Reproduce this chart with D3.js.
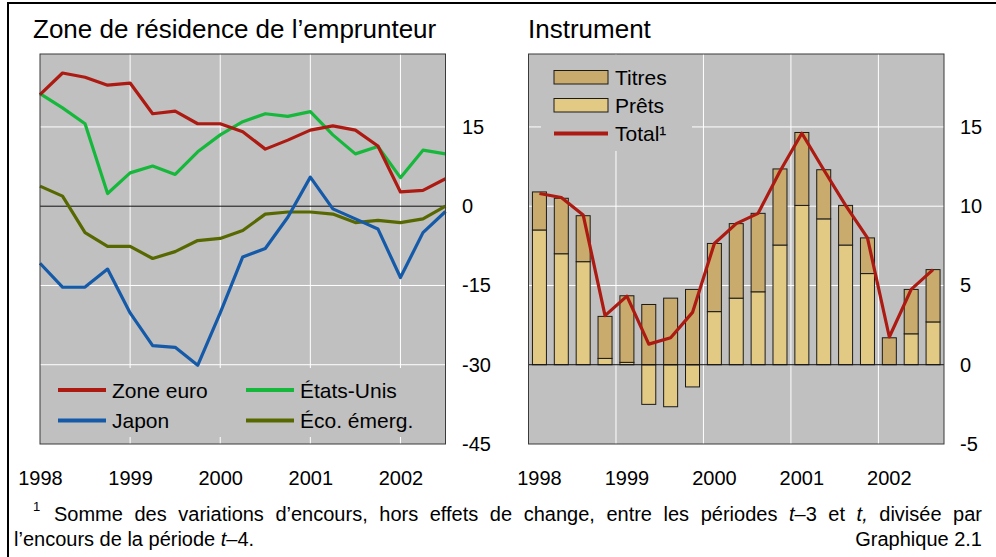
<!DOCTYPE html>
<html>
<head>
<meta charset="utf-8">
<script src="https://cdn.jsdelivr.net/npm/d3@7"></script>
<style>
  body { margin: 0; background: #fff; }
  svg text { font-family: Arial, "Liberation Sans", sans-serif; fill: #000; }
</style>
</head>
<body>
<div id="chart"></div>
<script>
const width = 996
const height = 557

// quarters 1998T1 .. 2002T3
const quarters = ['1998T1','1998T2','1998T3','1998T4','1999T1','1999T2','1999T3','1999T4',
  '2000T1','2000T2','2000T3','2000T4','2001T1','2001T2','2001T3','2001T4','2002T1','2002T2','2002T3']
const years = [1998, 1999, 2000, 2001, 2002]

// left panel: zone de résidence
const zoneEuro = [21.1, 25.2, 24.4, 22.9, 23.3, 17.5, 18.0, 15.6, 15.6, 14.1, 10.8, 12.5, 14.4, 15.2, 14.4, 11.4, 2.7, 3.0, 5.2]
const etatsUnis = [21.3, 18.6, 15.6, 2.4, 6.3, 7.6, 6.0, 10.3, 13.5, 16.0, 17.5, 17.0, 17.9, 13.5, 9.9, 11.3, 5.4, 10.6, 9.9]
const japon = [-10.8, -15.3, -15.3, -11.9, -20.2, -26.4, -26.7, -30.1, -20.2, -9.6, -8.0, -2.1, 5.5, -0.5, -2.4, -4.3, -13.5, -5.0, -1.0]
const ecoEmerg = [3.8, 1.9, -5.0, -7.6, -7.6, -9.9, -8.6, -6.5, -6.1, -4.6, -1.5, -1.1, -1.1, -1.5, -3.1, -2.7, -3.1, -2.4, 0.0]
const leftTicks = [15, 0, -15, -30, -45]

// right panel: instrument
const prets = [8.5, 7.0, 6.5, 0.4, 0.15, -2.5, -2.65, -1.4, 3.35, 4.2, 4.6, 7.55, 10.05, 9.2, 7.55, 5.75, 0.0, 1.95, 2.7]
const titres = [2.4, 3.5, 2.9, 2.65, 4.2, 3.8, 4.2, 4.75, 4.3, 4.7, 4.95, 4.8, 4.6, 3.1, 2.5, 2.25, 1.7, 2.8, 3.3]
const total = [10.8, 10.55, 9.45, 3.1, 4.33, 1.3, 1.7, 3.3, 7.65, 8.9, 9.55, 12.2, 14.6, 12.3, 10.05, 8.0, 1.75, 4.75, 6.0]
const rightTicks = [15, 10, 5, 0, -5]

const style = {
  plotBg: '#c0c0c0',
  grid: '#ffffff',
  frame: '#3a3a3a',
  red: '#ac1a12',
  green: '#16b83c',
  blue: '#145aa8',
  olive: '#586800',
  titres: '#c9ab6d',
  prets: '#e2ca85'
}

const plot = {top: 54, bottom: 444}
const leftPlot = {x0: 40, x1: 445.5}
const rightPlot = {x0: 528.5, x1: 944}
const tickFmt = d => String(d)   // plain hyphen, not unicode minus

const svg = d3.select('#chart').append('svg')
  .attr('width', width)
  .attr('height', height)

// outer frame (top + left only)
svg.append('line').attr('x1', 7).attr('x2', width).attr('y1', 3).attr('y2', 3)
  .attr('stroke', '#000').attr('stroke-width', 2)
svg.append('line').attr('x1', 8).attr('x2', 8).attr('y1', 2).attr('y2', height)
  .attr('stroke', '#000').attr('stroke-width', 2)

// ---------- left panel ----------
const xL = d3.scaleLinear().domain([1998, 2002.5]).range([leftPlot.x0, leftPlot.x1])
const yL = d3.scaleLinear().domain([-45, 28.8]).range([plot.bottom, plot.top])
const qx = (i) => xL(1998 + i * 0.25)

const gL = svg.append('g')
gL.append('rect')
  .attr('x', leftPlot.x0).attr('y', plot.top)
  .attr('width', leftPlot.x1 - leftPlot.x0).attr('height', plot.bottom - plot.top)
  .attr('fill', style.plotBg)

gL.selectAll('.hgrid').data([15, -15, -30]).join('line')
  .attr('x1', leftPlot.x0).attr('x2', leftPlot.x1)
  .attr('y1', d => yL(d)).attr('y2', d => yL(d))
  .attr('stroke', style.grid).attr('stroke-width', 1)
gL.selectAll('.vgrid').data(years.slice(1)).join('line')
  .attr('x1', d => xL(d)).attr('x2', d => xL(d))
  .attr('y1', plot.top).attr('y2', plot.bottom)
  .attr('stroke', style.grid).attr('stroke-width', 1)

// legend background hides the grid
gL.append('rect')
  .attr('x', 45).attr('y', 368).attr('width', 395).attr('height', 69)
  .attr('fill', style.plotBg)

gL.append('line')
  .attr('x1', leftPlot.x0).attr('x2', leftPlot.x1)
  .attr('y1', yL(0)).attr('y2', yL(0))
  .attr('stroke', '#111').attr('stroke-width', 1)

const leftSeries = [
  {name: 'Éco. émerg.', values: ecoEmerg, color: style.olive},
  {name: 'Japon', values: japon, color: style.blue},
  {name: 'États-Unis', values: etatsUnis, color: style.green},
  {name: 'Zone euro', values: zoneEuro, color: style.red}
]
const lineL = d3.line().x((d, i) => qx(i)).y(d => yL(d))
gL.selectAll('.series').data(leftSeries).join('path')
  .attr('d', d => lineL(d.values))
  .attr('fill', 'none')
  .attr('stroke', d => d.color)
  .attr('stroke-width', 3.2)
  .attr('stroke-linejoin', 'round')

gL.append('rect')
  .attr('x', leftPlot.x0).attr('y', plot.top)
  .attr('width', leftPlot.x1 - leftPlot.x0).attr('height', plot.bottom - plot.top)
  .attr('fill', 'none').attr('stroke', style.frame).attr('stroke-width', 1)

const legL = [
  {name: 'Zone euro', color: style.red, x: 58, y: 390},
  {name: 'États-Unis', color: style.green, x: 246, y: 390},
  {name: 'Japon', color: style.blue, x: 58, y: 420.5},
  {name: 'Éco. émerg.', color: style.olive, x: 246, y: 420.5}
]
const legItems = gL.selectAll('.leg').data(legL).join('g')
  .attr('transform', d => `translate(${d.x},${d.y})`)
legItems.append('line')
  .attr('x1', 0).attr('x2', 48).attr('y1', 0).attr('y2', 0)
  .attr('stroke', d => d.color).attr('stroke-width', 4)
legItems.append('text')
  .attr('x', 54).attr('dy', '0.36em')
  .style('font-size', '21px')
  .text(d => d.name)

svg.append('g')
  .attr('transform', `translate(462,0)`)
  .call(d3.axisRight(yL).tickValues(leftTicks).tickFormat(tickFmt).tickSize(0).tickPadding(0))
  .call(g => g.select('.domain').remove())
  .call(g => g.selectAll('text').style('font-size', '20px').attr('font-family', null))

svg.append('g')
  .attr('transform', `translate(0,${plot.bottom})`)
  .call(d3.axisBottom(xL).tickValues(years).tickFormat(tickFmt).tickSize(0).tickPadding(27))
  .call(g => g.select('.domain').remove())
  .call(g => g.selectAll('text').style('font-size', '20px').attr('font-family', null))

svg.append('text')
  .attr('x', 33).attr('y', 38)
  .style('font-size', '26px')
  .text('Zone de résidence de l’emprunteur')

// ---------- right panel ----------
const xR = d3.scaleBand().domain(quarters).range([rightPlot.x0, rightPlot.x1])
  .paddingInner(0.36).paddingOuter(0.18)
const yR = d3.scaleLinear().domain([-5, 19.6]).range([plot.bottom, plot.top])

const gR = svg.append('g')
gR.append('rect')
  .attr('x', rightPlot.x0).attr('y', plot.top)
  .attr('width', rightPlot.x1 - rightPlot.x0).attr('height', plot.bottom - plot.top)
  .attr('fill', style.plotBg)

gR.selectAll('.hgrid').data([5, 10, 15]).join('line')
  .attr('x1', rightPlot.x0).attr('x2', rightPlot.x1)
  .attr('y1', d => yR(d)).attr('y2', d => yR(d))
  .attr('stroke', style.grid).attr('stroke-width', 1)
gR.selectAll('.vgrid').data([4, 8, 12, 16]).join('line')
  .attr('x1', d => rightPlot.x0 + d * xR.step()).attr('x2', d => rightPlot.x0 + d * xR.step())
  .attr('y1', plot.top).attr('y2', plot.bottom)
  .attr('stroke', style.grid).attr('stroke-width', 1)

gR.append('rect')
  .attr('x', 541).attr('y', plot.top + 1).attr('width', 151).attr('height', 96)
  .attr('fill', style.plotBg)

const rows = quarters.map((q, i) => ({q, prets: prets[i], titres: titres[i]}))
const stacked = d3.stack().keys(['prets', 'titres']).offset(d3.stackOffsetDiverging)(rows)
const fills = {prets: style.prets, titres: style.titres}

gR.selectAll('.layer').data(stacked).join('g')
  .attr('fill', d => fills[d.key])
  .selectAll('rect').data(d => d).join('rect')
  .attr('x', d => xR(d.data.q))
  .attr('width', xR.bandwidth())
  .attr('y', d => yR(Math.max(d[0], d[1])))
  .attr('height', d => Math.abs(yR(d[0]) - yR(d[1])))
  .attr('stroke', '#1a1a1a').attr('stroke-width', 1)

gR.append('line')
  .attr('x1', rightPlot.x0).attr('x2', rightPlot.x1)
  .attr('y1', yR(0)).attr('y2', yR(0))
  .attr('stroke', '#111').attr('stroke-width', 1)

const lineR = d3.line().x((d, i) => xR(quarters[i]) + xR.bandwidth() / 2).y(d => yR(d))
gR.append('path')
  .attr('d', lineR(total))
  .attr('fill', 'none').attr('stroke', style.red).attr('stroke-width', 3.2)
  .attr('stroke-linejoin', 'round')

gR.append('rect')
  .attr('x', rightPlot.x0).attr('y', plot.top)
  .attr('width', rightPlot.x1 - rightPlot.x0).attr('height', plot.bottom - plot.top)
  .attr('fill', 'none').attr('stroke', style.frame).attr('stroke-width', 1)

const legR = gR.append('g').attr('transform', 'translate(554,0)')
legR.append('rect').attr('x', 0).attr('y', 70.5).attr('width', 54).attr('height', 13.5)
  .attr('fill', style.titres).attr('stroke', '#1a1a1a')
legR.append('rect').attr('x', 0).attr('y', 98.5).attr('width', 54).attr('height', 13.5)
  .attr('fill', style.prets).attr('stroke', '#1a1a1a')
legR.append('line').attr('x1', 0).attr('x2', 54).attr('y1', 133.5).attr('y2', 133.5)
  .attr('stroke', style.red).attr('stroke-width', 4)
legR.selectAll('text').data(['Titres', 'Prêts', 'Total¹']).join('text')
  .attr('x', 61).attr('y', (d, i) => 77.5 + i * 28).attr('dy', '0.36em')
  .style('font-size', '21px')
  .text(d => d)

svg.append('g')
  .attr('transform', `translate(960,0)`)
  .call(d3.axisRight(yR).tickValues(rightTicks).tickFormat(tickFmt).tickSize(0).tickPadding(0))
  .call(g => g.select('.domain').remove())
  .call(g => g.selectAll('text').style('font-size', '20px').attr('font-family', null))

svg.append('g')
  .attr('transform', `translate(0,${plot.bottom})`)
  .call(d3.axisBottom(xR).tickValues(quarters.filter(q => q.endsWith('T1')))
    .tickFormat(q => q.slice(0, 4)).tickSize(0).tickPadding(27))
  .call(g => g.select('.domain').remove())
  .call(g => g.selectAll('text').style('font-size', '20px').attr('font-family', null))

svg.append('text')
  .attr('x', 528).attr('y', 38)
  .style('font-size', '26px')
  .text('Instrument')

// ---------- footnote ----------
svg.append('text').attr('x', 33).attr('y', 511).style('font-size', '13px').text('1')
const note1 = svg.append('text')
  .attr('x', 54).attr('y', 521)
  .style('font-size', '20px')
note1.append('tspan').text('Somme des variations d’encours, hors effets de change, entre les périodes ')
note1.append('tspan').style('font-style', 'italic').text('t')
note1.append('tspan').text('–3 et ')
note1.append('tspan').style('font-style', 'italic').text('t,')
note1.append('tspan').text(' divisée par')
// justify the first line by widening the word gaps
const natural = note1.node().getComputedTextLength()
const gaps = note1.text().split(' ').length - 1
note1.style('word-spacing', `${Math.max(0, (982 - 54 - natural) / gaps)}px`)

const note2 = svg.append('text').attr('x', 14).attr('y', 546).style('font-size', '20px')
note2.append('tspan').text('l’encours de la période ')
note2.append('tspan').style('font-style', 'italic').text('t')
note2.append('tspan').text('–4.')

svg.append('text')
  .attr('x', 982).attr('y', 546).attr('text-anchor', 'end')
  .style('font-size', '20px')
  .text('Graphique 2.1')
</script>
</body>
</html>
